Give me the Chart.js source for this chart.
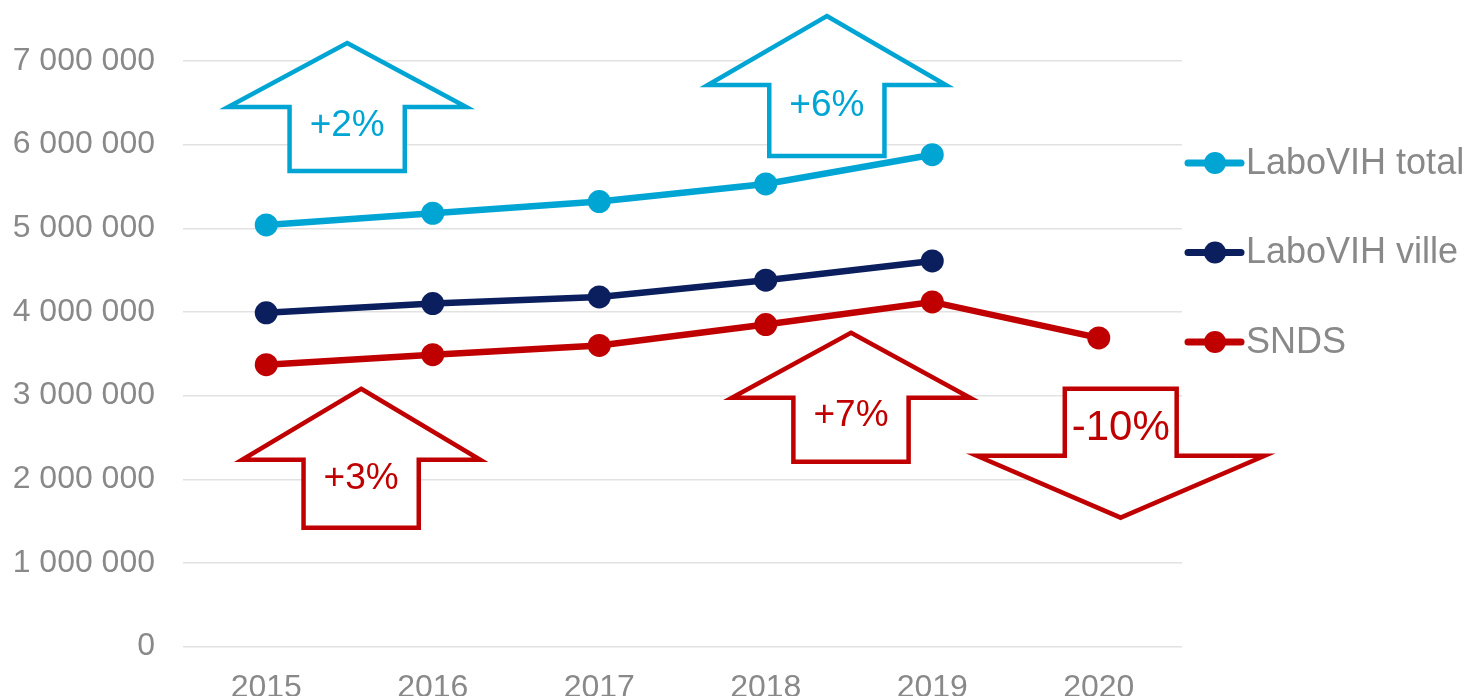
<!DOCTYPE html>
<html lang="fr">
<head>
    <meta charset="UTF-8">
    <title>LaboVIH / SNDS</title>
    <script src="https://cdn.jsdelivr.net/npm/chart.js"></script>
    <style>
        html, body { margin: 0; padding: 0; background: #fff; overflow: hidden; }
        #wrap { width: 1474px; height: 696px; overflow: hidden; }
    </style>
</head>
<body>
    <div id="wrap"><canvas id="chart" width="1474" height="721"></canvas></div>

    <script>
        // données
        const years = ["2015", "2016", "2017", "2018", "2019", "2020"];
        const laboTotal = [5040000, 5180000, 5320000, 5530000, 5880000, null];
        const laboVille = [3990000, 4100000, 4180000, 4380000, 4610000, null];
        const snds = [3370000, 3490000, 3600000, 3850000, 4120000, 3690000];
        const yTicks = [0, 1000000, 2000000, 3000000, 4000000, 5000000, 6000000, 7000000];

        // flèches d'évolution : x en index d'année, y en valeurs
        const arrowLabels = ["+2%", "+6%", "+3%", "+7%", "-10%"];
        const arrowX = [0.486, 3.367, 0.57, 3.512, 5.132];
        const arrowTip = [7215000, 7538000, 3082000, 3751000, 1541000];
        const arrowWing = [6450000, 6713000, 2234000, 2974000, 2282000];
        const arrowEnd = [5686000, 5865000, 1422000, 2210000, 3082000];
        const arrowTextY = [6224000, 6463000, 2007000, 2759000, 2604000];
        const arrowColor = ["#00a5d4", "#00a5d4", "#c00000", "#c00000", "#c00000"];

        const gray = "#898989";
        const font = "'Liberation Sans', Arial, sans-serif";

        const arrowsPlugin = {
            id: "arrows",
            afterDraw(chart) {
                const ctx = chart.ctx;
                const x = chart.scales.x, y = chart.scales.y;
                const step = x.getPixelForValue(1) - x.getPixelForValue(0);
                ctx.save();
                arrowLabels.forEach((lab, i) => {
                    const cx = x.getPixelForValue(arrowX[i]);
                    const down = arrowTip[i] < arrowEnd[i];
                    const head = (down ? 0.864 : 0.715) * step;
                    const shaft = (down ? 0.336 : 0.346) * step;
                    const yt = y.getPixelForValue(arrowTip[i]);
                    const yw = y.getPixelForValue(arrowWing[i]);
                    const ye = y.getPixelForValue(arrowEnd[i]);
                    ctx.beginPath();
                    ctx.moveTo(cx, yt);
                    ctx.lineTo(cx + head, yw);
                    ctx.lineTo(cx + shaft, yw);
                    ctx.lineTo(cx + shaft, ye);
                    ctx.lineTo(cx - shaft, ye);
                    ctx.lineTo(cx - shaft, yw);
                    ctx.lineTo(cx - head, yw);
                    ctx.closePath();
                    ctx.fillStyle = "#fff";
                    ctx.fill();
                    ctx.lineWidth = 4.5;
                    ctx.lineJoin = "miter";
                    ctx.strokeStyle = arrowColor[i];
                    ctx.stroke();
                    ctx.fillStyle = arrowColor[i];
                    ctx.font = (down ? 42 : 37) + "px " + font;
                    ctx.textAlign = "center";
                    ctx.textBaseline = "middle";
                    ctx.fillText(lab, cx, y.getPixelForValue(arrowTextY[i]));
                });
                ctx.restore();
            }
        };

        const legendPlugin = {
            id: "sideLegend",
            afterDraw(chart) {
                const ctx = chart.ctx;
                const left = chart.chartArea.right + 3;
                ctx.save();
                chart.data.datasets.forEach((ds, i) => {
                    const yy = chart.chartArea.top + 102 + i * 89.5;
                    ctx.strokeStyle = ds.borderColor;
                    ctx.lineWidth = 7;
                    ctx.lineCap = "round";
                    ctx.beginPath();
                    ctx.moveTo(left + 3, yy);
                    ctx.lineTo(left + 56, yy);
                    ctx.stroke();
                    ctx.fillStyle = ds.borderColor;
                    ctx.beginPath();
                    ctx.arc(left + 30, yy, 11, 0, Math.PI * 2);
                    ctx.fill();
                    ctx.fillStyle = gray;
                    ctx.font = "36px " + font;
                    ctx.textAlign = "left";
                    ctx.textBaseline = "middle";
                    ctx.fillText(ds.label, left + 61, yy + 1);
                });
                ctx.restore();
            }
        };

        function serie(label, data, color) {
            return {
                label: label,
                data: data,
                borderColor: color,
                backgroundColor: color,
                borderWidth: 6.5,
                pointRadius: 11.5,
                pointHoverRadius: 11.5,
                pointBorderWidth: 0,
                tension: 0,
                spanGaps: false
            };
        }

        new Chart(document.getElementById("chart").getContext("2d"), {
            type: "line",
            data: {
                labels: years,
                datasets: [
                    serie("LaboVIH total", laboTotal, "#00a5d4"),
                    serie("LaboVIH ville", laboVille, "#0b1f5e"),
                    serie("SNDS", snds, "#c00000")
                ]
            },
            options: {
                responsive: false,
                animation: false,
                layout: { padding: { top: 61, right: 292, left: 0, bottom: 0 } },
                plugins: { legend: { display: false }, tooltip: { enabled: false } },
                scales: {
                    x: {
                        offset: true,
                        grid: { display: false },
                        border: { display: false },
                        ticks: { color: gray, padding: 14, font: { family: font, size: 32 } }
                    },
                    y: {
                        min: 0,
                        max: 7000000,
                        afterBuildTicks: (s) => { s.ticks = yTicks.map(v => ({ value: v })); },
                        afterFit: (s) => { s.width = 183; },
                        grid: { color: "#e2e2e2", lineWidth: 1.5, drawTicks: false },
                        border: { display: false },
                        ticks: {
                            color: gray,
                            padding: 28,
                            font: { family: font, size: 32 },
                            callback: (v) => String(v).replace(/\B(?=(\d{3})+(?!\d))/g, " ")
                        }
                    }
                }
            },
            plugins: [arrowsPlugin, legendPlugin]
        });
    </script>
</body>
</html>
